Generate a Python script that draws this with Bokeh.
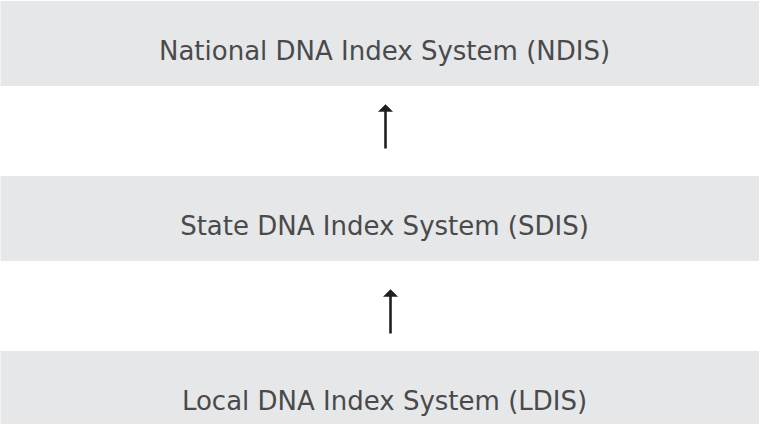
from bokeh.plotting import figure
from bokeh.models import Range1d, ColumnDataSource
from bokeh.core.properties import value
from bokeh.embed import file_html
from bokeh.resources import INLINE

# Hierarchy levels (top to bottom)
levels = ["National DNA Index System (NDIS)",
          "State DNA Index System (SDIS)",
          "Local DNA Index System (LDIS)"]
# Arrows point from a lower level up to the level above it
arrow_from = [1, 2]
arrow_to = [0, 1]

# ---- layout (page-pixel-like data units) ----
W, H = 759, 424
top0, step, half_h = 51.0, 175.0, 42.5
box_left, box_right = 5, 780
text_x = 392
text_dy = 7
arrow_x = [393, 398]
arrow_shift = [-4.5, 5.5]
arrow_len = 44
head_w, head_l = 14, 7

BOX = "#e6e7e8"
TEXT = "#4a4a4c"
ARROW = "#231f20"

p = figure(width=W, height=H, output_backend="svg", toolbar_location=None,
           x_range=Range1d(8, 8 + W), y_range=Range1d(8 + H, 8),
           min_border=0, outline_line_color=None, background_fill_color="white")
p.axis.visible = False
p.grid.visible = False

centers = [top0 + step * i for i in range(len(levels))]
src = ColumnDataSource(dict(
    label=levels,
    top=[c - half_h for c in centers],
    bottom=[c + half_h for c in centers],
    left=[box_left] * len(levels),
    right=[box_right] * len(levels),
    ty=[c + text_dy for c in centers],
    tx=[text_x] * len(levels),
))
p.quad(left="left", right="right", top="top", bottom="bottom", source=src,
       fill_color=BOX, line_color=None)
p.text(x="tx", y="ty", text="label", source=src,
       text_font=value("DejaVu Sans"), text_font_size="26px",
       text_color=TEXT, text_align="center", text_baseline="alphabetic")

# arrows
xs_shaft, ys_shaft, xs_head, ys_head = [], [], [], []
for k, (a, b) in enumerate(zip(arrow_from, arrow_to)):
    gap_top = centers[b] + half_h
    gap_bot = centers[a] - half_h
    mid = (gap_top + gap_bot) / 2 + arrow_shift[k]
    tip = mid - arrow_len / 2
    base = mid + arrow_len / 2
    x = arrow_x[k]
    xs_shaft.append([x, x])
    ys_shaft.append([tip + head_l - 0.5, base])
    xs_head.append([x - head_w / 2, x, x + head_w / 2])
    ys_head.append([tip + head_l, tip, tip + head_l])

p.multi_line(xs_shaft, ys_shaft, line_color=ARROW, line_width=2.6)
p.patches(xs_head, ys_head, fill_color=ARROW, line_color=ARROW, line_width=0.5)

open("out.html", "w").write(file_html(p, INLINE))
